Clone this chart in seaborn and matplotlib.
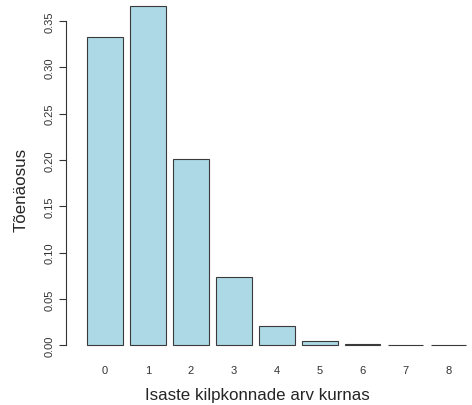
import pandas as pd
import matplotlib
matplotlib.use("Agg")
import matplotlib.pyplot as plt
import seaborn as sns

# andmed: tõenäosused loetud jooniselt
arv = ['0', '1', '2', '3', '4', '5', '6', '7', '8']
toenaosus = [0.3329, 0.3662, 0.2014, 0.0738, 0.0203, 0.0045, 0.0008, 0.00013, 0.00002]

df = pd.DataFrame({'arv': arv, 'p': toenaosus})

sns.set_theme(style="white")
plt.rcParams['font.family'] = ['Liberation Sans', 'DejaVu Sans']

fig = plt.figure(figsize=(4.72, 4.06), dpi=100)
ax = fig.add_axes([0.139, 0.113, 0.861, 0.887])

sns.barplot(data=df, x='arv', y='p', color='#ADD8E6', saturation=1,
            width=0.833, edgecolor='#3a3a3a', linewidth=0.8, ax=ax)

ax.set_xlim(-0.92, 8.55)
ax.set_ylim(-0.0151, 0.3737)

ax.set_yticks([0, 0.05, 0.10, 0.15, 0.20, 0.25, 0.30, 0.35])
ax.set_yticklabels(['0.00', '0.05', '0.10', '0.15', '0.20', '0.25', '0.30', '0.35'],
                   rotation=90, va='center')
ax.tick_params(axis='y', left=True, length=5, width=0.8, pad=3, labelsize=8,
               color='#333333', labelcolor='#333333')
ax.tick_params(axis='x', bottom=False, length=0, pad=4, labelsize=8, labelcolor='#333333')

for s in ['top', 'right', 'bottom']:
    ax.spines[s].set_visible(False)
ax.spines['left'].set_bounds(0, 0.35)
ax.spines['left'].set_color('#333333')
ax.spines['left'].set_linewidth(0.8)

ax.set_xlabel('Isaste kilpkonnade arv kurnas', fontsize=12.2)
ax.set_ylabel('Tõenäosus', fontsize=12.2)
# R paneb teljenimed joonise ala keskele
ax.xaxis.set_label_coords(0.472, -0.078)
ax.yaxis.set_label_coords(-0.092, 0.472)

plt.savefig('out.png', dpi=100)
